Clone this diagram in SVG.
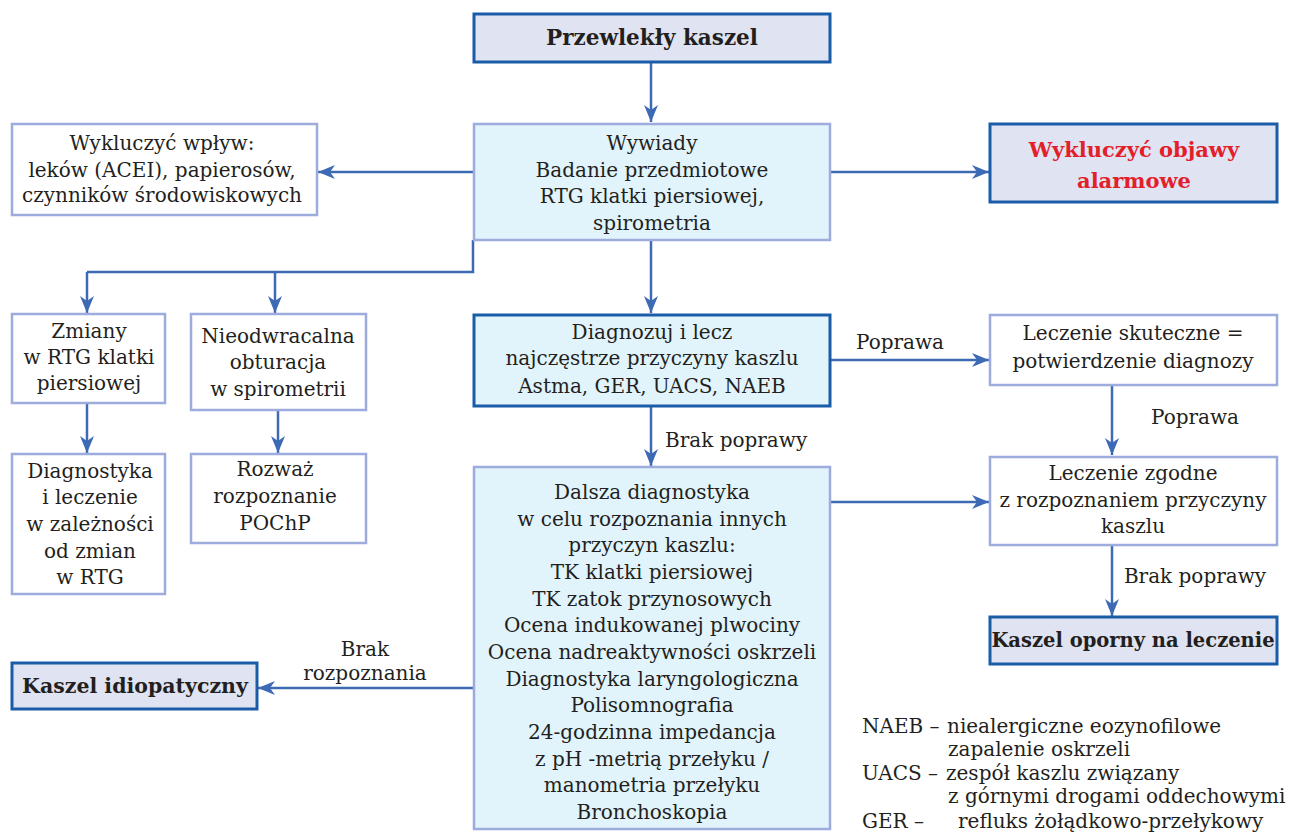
<svg xmlns="http://www.w3.org/2000/svg" width="1293" height="832" viewBox="0 0 1293 832">
<style>
.t{font-family:"DejaVu Serif","Liberation Serif",serif;font-size:20px;fill:#231f20;text-anchor:middle}
.b{font-weight:bold;font-size:20px}
.r{fill:#e3202a}
.lg{text-anchor:start}
.light{fill:#ffffff;stroke:#9dacdc;stroke-width:2.5}
.lightc{fill:#e1f3fb;stroke:#9dacdc;stroke-width:2.5}
.dark{fill:#e0e3f1;stroke:#1b5ca8;stroke-width:3}
.darkc{fill:#e1f3fb;stroke:#1b5ca8;stroke-width:3}
.c{fill:none;stroke:#3d6ab5;stroke-width:2.5}
.a{marker-end:url(#ah)}
</style>
<defs>
<marker id="ah" markerUnits="userSpaceOnUse" markerWidth="18" markerHeight="14" viewBox="0 0 18 14" refX="17" refY="7" orient="auto">
<path d="M0,0 L17,7 L0,14 L5,7 z" fill="#3d6ab5"/>
</marker>
</defs>
<rect width="1293" height="832" fill="#ffffff"/>

<g id="connectors">
<path class="c a" d="M651,62 V122"/>
<path class="c a" d="M473,172 H318"/>
<path class="c a" d="M830,172 H989"/>
<path class="c" d="M473,240 V272 H87"/>
<path class="c a" d="M87,272 V313"/>
<path class="c a" d="M275,272 V313"/>
<path class="c a" d="M87,403 V453"/>
<path class="c a" d="M278,410 V453"/>
<path class="c a" d="M651,240 V313"/>
<path class="c a" d="M830,360 H989"/>
<text class="t" x="900" y="349">Poprawa</text>
<path class="c a" d="M651,406 V466"/>
<text class="t lg" x="665" y="447">Brak poprawy</text>
<path class="c a" d="M1112,385 V455"/>
<text class="t" x="1195" y="424">Poprawa</text>
<path class="c a" d="M830,502 H989"/>
<path class="c a" d="M1112,545 V616"/>
<text class="t" x="1195" y="583">Brak poprawy</text>
<path class="c a" d="M473,688 H258"/>
<text class="t" x="365" y="656">Brak</text>
<text class="t" x="365" y="680">rozpoznania</text>
</g>

<g id="n-przewlekly">
<rect class="dark" x="474" y="14" width="356" height="48"/>
<text class="t b" x="652" y="45" style="font-size:21.5px">Przewlekły kaszel</text>
</g>

<g id="n-wywiady">
<rect class="lightc" x="474" y="124" width="356" height="116"/>
<text class="t" x="652" y="150">Wywiady</text>
<text class="t" x="652" y="177">Badanie przedmiotowe</text>
<text class="t" x="652" y="203">RTG klatki piersiowej,</text>
<text class="t" x="652" y="230">spirometria</text>
</g>

<g id="n-wykluczyc-wplyw">
<rect class="light" x="12" y="124" width="305" height="91"/>
<text class="t" x="162" y="150">Wykluczyć wpływ:</text>
<text class="t" x="162" y="177">leków (ACEI), papierosów,</text>
<text class="t" x="162" y="202">czynników środowiskowych</text>
</g>

<g id="n-alarmowe">
<rect class="dark" x="990" y="124" width="287" height="78"/>
<text class="t b r" x="1134" y="157" style="font-size:21px">Wykluczyć objawy</text>
<text class="t b r" x="1134" y="188" style="font-size:21px">alarmowe</text>
</g>

<g id="n-zmiany">
<rect class="light" x="12" y="314" width="153" height="89"/>
<text class="t" x="89" y="338">Zmiany</text>
<text class="t" x="89" y="364">w RTG klatki</text>
<text class="t" x="89" y="390">piersiowej</text>
</g>

<g id="n-nieodwracalna">
<rect class="light" x="191" y="314" width="175" height="96"/>
<text class="t" x="278" y="343">Nieodwracalna</text>
<text class="t" x="278" y="369">obturacja</text>
<text class="t" x="278" y="396">w spirometrii</text>
</g>

<g id="n-diagnostyka">
<rect class="light" x="12" y="454" width="153" height="140"/>
<text class="t" x="90" y="478">Diagnostyka</text>
<text class="t" x="90" y="504">i leczenie</text>
<text class="t" x="90" y="531">w zależności</text>
<text class="t" x="90" y="558">od zmian</text>
<text class="t" x="90" y="584">w RTG</text>
</g>

<g id="n-rozwaz">
<rect class="light" x="191" y="454" width="175" height="89"/>
<text class="t" x="275" y="476">Rozważ</text>
<text class="t" x="275" y="503">rozpoznanie</text>
<text class="t" x="275" y="530">POChP</text>
</g>

<g id="n-diagnozuj">
<rect class="darkc" x="474" y="315" width="356" height="91"/>
<text class="t" x="652" y="339">Diagnozuj i lecz</text>
<text class="t" x="652" y="365">najczęstrze przyczyny kaszlu</text>
<text class="t" x="652" y="393">Astma, GER, UACS, NAEB</text>
</g>

<g id="n-skuteczne">
<rect class="light" x="990" y="315" width="287" height="70"/>
<text class="t" x="1133" y="340">Leczenie skuteczne =</text>
<text class="t" x="1133" y="368">potwierdzenie diagnozy</text>
</g>

<g id="n-zgodne">
<rect class="light" x="990" y="457" width="287" height="88"/>
<text class="t" x="1133" y="480">Leczenie zgodne</text>
<text class="t" x="1133" y="507">z rozpoznaniem przyczyny</text>
<text class="t" x="1133" y="533">kaszlu</text>
</g>

<g id="n-oporny">
<rect class="dark" x="990" y="617" width="287" height="47"/>
<text class="t b" x="1133" y="647" style="font-size:19.5px">Kaszel oporny na leczenie</text>
</g>

<g id="n-dalsza">
<rect class="lightc" x="474" y="467" width="356" height="362"/>
<text class="t" x="652" y="499">Dalsza diagnostyka</text>
<text class="t" x="652" y="526">w celu rozpoznania innych</text>
<text class="t" x="652" y="552">przyczyn kaszlu:</text>
<text class="t" x="652" y="579">TK klatki piersiowej</text>
<text class="t" x="652" y="606">TK zatok przynosowych</text>
<text class="t" x="652" y="632">Ocena indukowanej plwociny</text>
<text class="t" x="652" y="659">Ocena nadreaktywności oskrzeli</text>
<text class="t" x="652" y="686">Diagnostyka laryngologiczna</text>
<text class="t" x="652" y="712">Polisomnografia</text>
<text class="t" x="652" y="739">24-godzinna impedancja</text>
<text class="t" x="652" y="766">z pH -metrią przełyku /</text>
<text class="t" x="652" y="792">manometria przełyku</text>
<text class="t" x="652" y="819">Bronchoskopia</text>
</g>

<g id="n-idiopatyczny">
<rect class="dark" x="12" y="663" width="245" height="46"/>
<text class="t b" x="135" y="693" style="font-size:20.5px">Kaszel idiopatyczny</text>
</g>

<g id="legend">
<text class="t lg" x="862" y="733">NAEB –</text>
<text class="t lg" x="947" y="733">niealergiczne eozynofilowe</text>
<text class="t lg" x="948" y="756">zapalenie oskrzeli</text>
<text class="t lg" x="862" y="780">UACS –</text>
<text class="t lg" x="946" y="780">zespół kaszlu związany</text>
<text class="t lg" x="948" y="803">z górnymi drogami oddechowymi</text>
<text class="t lg" x="862" y="828">GER –</text>
<text class="t lg" x="958" y="828">refluks żołądkowo-przełykowy</text>
</g>
</svg>
